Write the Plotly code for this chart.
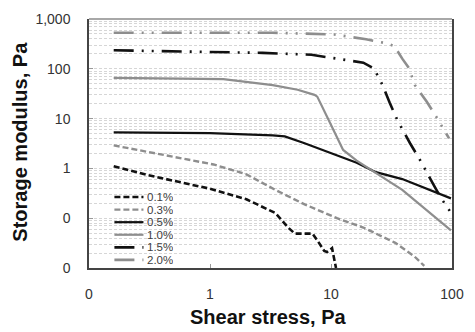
import plotly.graph_objects as go

# Storage modulus vs. shear stress for six concentrations
labels = ["0.1%", "0.3%", "0.5%", "1.0%", "1.5%", "2.0%"]

x_01 = [0.16, 0.31, 1.0, 2.0, 3.47, 4.42, 5.03, 7.03, 7.7, 8.8, 9.3, 10.2, 11.0]
y_01 = [1.1, 0.73, 0.39, 0.24, 0.127, 0.065, 0.049, 0.049, 0.036, 0.022, 0.021, 0.025, 0.010]

x_03 = [0.16, 0.31, 0.59, 1.07, 2.0, 3.47, 6.05, 11.2, 18.5, 34, 49, 59]
y_03 = [2.9, 2.15, 1.57, 1.2, 0.76, 0.37, 0.19, 0.10, 0.065, 0.032, 0.017, 0.011]

x_05 = [0.16, 1.0, 3.3, 4.15, 6.05, 11.2, 16.3, 23.5, 38.8, 98]
y_05 = [5.3, 5.1, 4.6, 4.4, 3.2, 1.8, 1.3, 0.84, 0.61, 0.25]

x_10 = [0.16, 1.29, 3.3, 5.3, 7.3, 7.7, 9.3, 11.2, 12.6, 16.3, 38.8, 98]
y_10 = [66, 62, 47, 38, 30, 27.6, 10.8, 4.4, 2.35, 1.43, 0.37, 0.057]

x_15 = [0.16, 2.72, 6.9, 18.5, 22.6, 24.8, 26.7, 30.5, 35.3, 45.0, 54.2, 70.3, 81.5, 100]
y_15 = [235, 209, 191, 133, 102, 68, 47, 21, 9.4, 3.2, 1.5, 0.47, 0.25, 0.12]

x_20 = [0.16, 3.28, 10.6, 19.5, 28.3, 33.4, 38.8, 44.2, 49.4, 61.7, 74.3, 94.6]
y_20 = [530, 530, 490, 392, 327, 286, 160, 102, 47, 22, 10.8, 4.0]

xs = [x_01, x_03, x_05, x_10, x_15, x_20]
ys = [y_01, y_03, y_05, y_10, y_15, y_20]

BLACK = "#111111"
GRAY = "#8e8e8e"
DDOT = "20px,8px,2px,8px,2px,8px"
styles = [
    dict(color=BLACK, width=2.6, dash="6px,3px"),
    dict(color=GRAY, width=2.4, dash="6px,3px"),
    dict(color=BLACK, width=2.2, dash="solid"),
    dict(color=GRAY, width=2.2, dash="solid"),
    dict(color=BLACK, width=2.6, dash=DDOT),
    dict(color=GRAY, width=2.6, dash=DDOT),
]

fig = go.Figure()
for xv, yv, name, st in zip(xs, ys, labels, styles):
    fig.add_trace(go.Scatter(x=xv, y=yv, mode="lines", name=name,
                             line=st, showlegend=False))

# grid lines at every 1..9 step of each decade
minor_vals = [m * 10.0 ** k for k in range(-2, 3) for m in range(2, 10)]
grid_style = dict(color="#d6d6d6", dash="3px,2px", width=1)

tick_font = dict(family="Liberation Sans, Arial, sans-serif", size=14, color="#333333")

fig.update_xaxes(
    type="log", range=[-1, 2],
    tickmode="array", tickvals=[0.1, 1, 10, 100], ticktext=["0", "1", "10", "100"],
    showgrid=False, zeroline=False,
    showline=True, linecolor="#444444", linewidth=1.5,
    ticks="inside", ticklen=4, tickcolor="#999999",
    tickfont=tick_font, ticklabelstandoff=12,
)
fig.update_yaxes(
    type="log", range=[-2, 3],
    tickmode="array", tickvals=[0.01, 0.1, 1, 10, 100, 1000],
    ticktext=["0", "0", "1", "10", "100", "1,000"],
    showgrid=True, gridcolor=grid_style["color"], griddash=grid_style["dash"], gridwidth=1,
    minor=dict(tickmode="array", tickvals=minor_vals, showgrid=True,
               gridcolor=grid_style["color"], griddash=grid_style["dash"], gridwidth=1,
               ticks=""),
    zeroline=False,
    showline=True, linecolor="#444444", linewidth=1.5, mirror=True,
    ticks="inside", ticklen=4, tickcolor="#999999",
    tickfont=tick_font, ticklabelstandoff=14,
)

shapes = [
    # light top border of the plot frame
    dict(type="line", xref="paper", yref="paper", x0=0, x1=1, y0=1, y1=1,
         line=dict(color="#a8a8a8", width=2), layer="above"),
    # white box behind the key
    dict(type="rect", xref="paper", yref="paper", x0=0.04, x1=0.26, y0=0.008, y1=0.315,
         fillcolor="white", line=dict(width=0), layer="between"),
]
annotations = []

# key: line sample and label per series
key_top = 0.285
key_step = 0.0505
for i, (name, st) in enumerate(zip(labels, styles)):
    yk = key_top - i * key_step
    shapes.append(dict(type="line", xref="paper", yref="paper",
                       x0=0.07, x1=0.15, y0=yk, y1=yk,
                       line=dict(color=st["color"], width=st["width"], dash=st["dash"])))
    annotations.append(dict(xref="paper", yref="paper", x=0.155, y=yk, text=name,
                            showarrow=False, xanchor="left", yanchor="middle",
                            height=12, valign="middle",
                            font=dict(family="Liberation Sans, Arial, sans-serif",
                                      size=11.5, color="#404040")))

title_font = dict(family="Liberation Sans, Arial, sans-serif", size=20,
                  color="#111111", weight="bold")
annotations.append(dict(xref="paper", yref="paper", x=0.495, y=-0.195,
                        text="Shear stress, Pa", showarrow=False,
                        xanchor="center", yanchor="middle", font=title_font))
annotations.append(dict(xref="paper", yref="paper", x=-0.191, y=0.506,
                        text="Storage modulus, Pa", showarrow=False, textangle=-90,
                        xanchor="center", yanchor="middle", font=title_font))

fig.update_layout(
    width=475, height=332,
    margin=dict(l=89, r=14, t=11, b=64),
    plot_bgcolor="white", paper_bgcolor="white",
    showlegend=False,
    shapes=shapes, annotations=annotations,
)

fig.write_html("out.html")
